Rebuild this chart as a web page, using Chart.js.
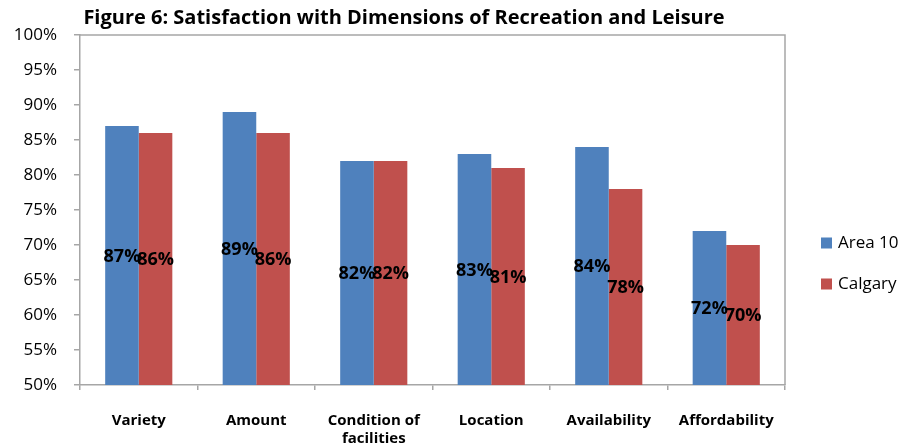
<!DOCTYPE html>
<html><head><meta charset="utf-8">
<script src="https://cdn.jsdelivr.net/npm/chart.js@4.4.0/dist/chart.umd.min.js"></script>
<style>html,body{margin:0;padding:0;background:#fff}</style>
</head><body>
<canvas id="c" width="908" height="448"></canvas>
<script>
const titleText = "Figure 6: Satisfaction with Dimensions of Recreation and Leisure";
const categories = ["Variety", "Amount", ["Condition of", "facilities"], "Location", "Availability", "Affordability"];
const seriesNames = ["Area 10", "Calgary"];
const area10 = [87, 89, 82, 83, 84, 72];
const calgary = [86, 86, 82, 81, 78, 70];
const yMin = 50, yMax = 100, yStep = 5;

const FONT = '"Open Sans", "Noto Sans", sans-serif';
const AXIS = '#a6a6a6';

const decor = {
  id: 'decor',
  afterDraw(chart) {
    const { ctx, chartArea: a } = chart;
    ctx.save();
    // plot frame (top & right)
    ctx.strokeStyle = AXIS; ctx.lineWidth = 1.5;
    ctx.beginPath();
    ctx.moveTo(a.left, a.top); ctx.lineTo(a.right, a.top); ctx.lineTo(a.right, a.bottom);
    ctx.stroke();
    // data labels
    ctx.fillStyle = '#000';
    ctx.textAlign = 'center'; ctx.textBaseline = 'middle';
    ctx.font = 'bold 18px ' + FONT;
    chart.data.datasets.forEach((ds, i) => {
      chart.getDatasetMeta(i).data.forEach((bar, j) => {
        const p = bar.getProps(['x', 'y', 'base'], true);
        const b = Math.min(p.base, a.bottom);
        ctx.fillText(ds.data[j] + '%', p.x, (p.y + b) / 2 + 1);
      });
    });
    // title
    ctx.font = 'bold 20px ' + FONT;
    ctx.fillText(titleText, 404, 18);
    // legend
    ctx.textAlign = 'left';
    ctx.font = '17px ' + FONT;
    chart.data.datasets.forEach((ds, i) => {
      const cy = 243 + i * 41;
      ctx.fillStyle = ds.backgroundColor;
      ctx.fillRect(821, cy - 5.5, 11, 11);
      ctx.fillStyle = '#000';
      ctx.fillText(ds.label, 838, cy);
    });
    ctx.restore();
  }
};

new Chart(document.getElementById('c'), {
  type: 'bar',
  data: {
    labels: categories,
    datasets: [
      { label: seriesNames[0], data: area10, backgroundColor: '#4F81BD' },
      { label: seriesNames[1], data: calgary, backgroundColor: '#C0504D' }
    ]
  },
  options: {
    responsive: false,
    animation: false,
    devicePixelRatio: 1,
    layout: { padding: { left: 0, top: 35, right: 123, bottom: 0 } },
    datasets: { bar: { categoryPercentage: 2 / 3.5, barPercentage: 1 } },
    plugins: { legend: { display: false }, title: { display: false }, tooltip: { enabled: false } },
    scales: {
      x: {
        grid: { offset: true, drawOnChartArea: false, drawTicks: true, tickLength: 5, color: AXIS, lineWidth: 1.5 },
        border: { color: AXIS, width: 1.5 },
        ticks: { color: '#000', font: { family: FONT, size: 15, weight: 'bold' }, padding: 22, maxRotation: 0, autoSkip: false },
        afterFit(s) { s.height = 63; }
      },
      y: {
        min: yMin, max: yMax,
        grid: { drawOnChartArea: false, drawTicks: true, tickLength: 6, color: AXIS, lineWidth: 1.5 },
        border: { color: AXIS, width: 1.5 },
        ticks: { stepSize: yStep, color: '#000', font: { family: FONT, size: 17 }, padding: 17, callback: v => v + '%' },
        afterFit(s) { s.width = 80; }
      }
    }
  },
  plugins: [decor]
});
</script>
</body></html>
